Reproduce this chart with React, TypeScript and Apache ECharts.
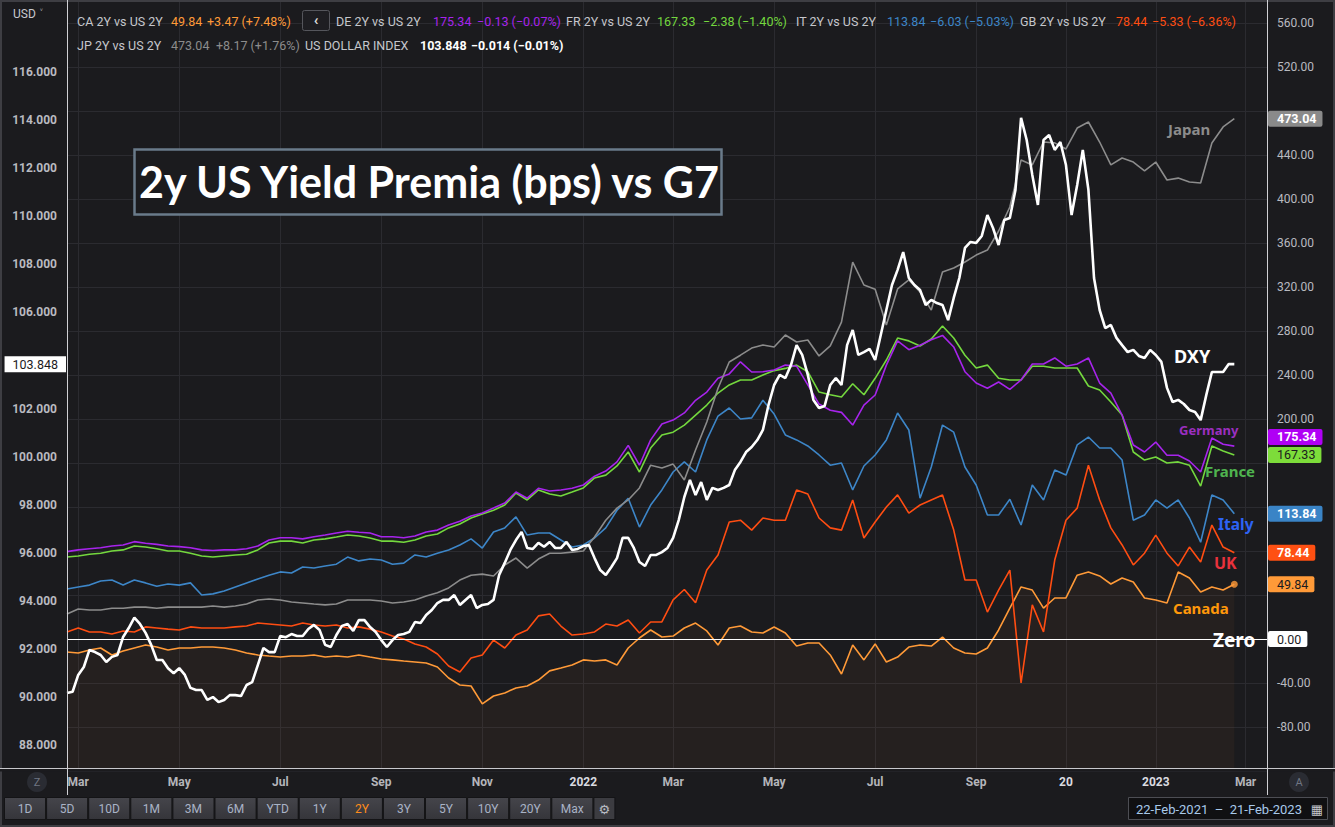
import React, { useEffect, useRef } from 'react';
import * as echarts from 'echarts';

// ---------- categories ----------
const START_DATE = '2021-02-22';
const N_WEEKS = 108;
function weekDates(start: string, n: number): string[] {
  const out: string[] = [];
  const t0 = Date.parse(start + 'T00:00:00Z');
  for (let i = 0; i < n; i++) out.push(new Date(t0 + i * 7 * 86400000).toISOString().slice(0, 10));
  return out;
}
// half-week (Mon / Thu) dates for the denser DXY series
function halfWeekDates(start: string, nWeeks: number): string[] {
  const out: string[] = [];
  const t0 = Date.parse(start + 'T00:00:00Z');
  for (let i = 0; i < nWeeks * 2 - 1; i++) {
    const days = Math.floor(i / 2) * 7 + (i % 2) * 3;
    out.push(new Date(t0 + days * 86400000).toISOString().slice(0, 10));
  }
  return out;
}
const categories = weekDates(START_DATE, N_WEEKS);
const dxyCategories = halfWeekDates(START_DATE, N_WEEKS);

const xTickLabels: Record<string, string> = {
  '2021-03-01': 'Mar', '2021-05-03': 'May', '2021-07-05': 'Jul', '2021-09-06': 'Sep', '2021-11-08': 'Nov',
  '2022-01-10': '2022', '2022-03-07': 'Mar', '2022-05-09': 'May', '2022-07-11': 'Jul', '2022-09-12': 'Sep',
  '2022-11-07': '20', '2023-01-02': '2023', '2023-02-27': 'Mar',
};

// ---------- series values ----------
// US Dollar Index (left axis), twice-weekly readings
const dxy = [
  90.17, 90.22, 90.92, 91.25, 91.96, 91.87, 91.75, 91.46, 91.67, 91.75,
  92.5, 92.87, 93.3, 93.04, 92.67, 92.17, 91.54, 91.54, 91.2, 90.99,
  91.2, 90.92, 90.38, 90.29, 90.29, 89.88, 90.0, 89.79, 89.88, 90.08,
  90.08, 90.04, 90.5, 90.62, 91.33, 92.04, 91.87, 91.87, 92.54, 92.49,
  92.62, 92.54, 92.54, 92.83, 93.0, 92.79, 92.17, 92.08, 92.58, 92.96,
  93.04, 92.75, 93.2, 93.2, 92.91, 92.71, 92.37, 92.08, 92.37, 92.58,
  92.62, 92.71, 93.12, 93.08, 93.41, 93.62, 93.91, 94.04, 94.04, 94.24,
  93.83, 94.04, 94.24, 93.7, 93.83, 93.87, 94.04, 95.08, 95.58, 96.12,
  96.53, 96.87, 96.2, 96.16, 96.41, 96.25, 96.45, 96.2, 96.2, 96.45,
  96.12, 96.16, 96.28, 96.32, 95.78, 95.28, 95.08, 95.41, 95.78, 96.62,
  96.62, 96.2, 95.62, 95.45, 95.91, 95.91, 96.03, 96.2, 96.62, 97.36,
  98.32, 99.03, 98.4, 98.94, 98.2, 98.7, 98.61, 98.7, 98.82, 99.44,
  99.78, 100.19, 100.4, 100.69, 101.11, 102.15, 102.98, 103.4, 103.27, 103.81,
  104.64, 104.23, 103.4, 102.36, 102.02, 102.11, 102.98, 103.27, 102.98, 104.64,
  105.27, 104.23, 104.35, 104.48, 104.02, 105.06, 106.1, 107.14, 107.77, 108.51,
  107.43, 107.14, 106.93, 106.31, 106.52, 106.39, 106.31, 105.68, 106.6, 107.43,
  108.68, 108.93, 108.89, 109.18, 110.05, 109.51, 108.8, 109.84, 109.93, 111.09,
  114.09, 113.17, 111.72, 110.47, 113.17, 113.38, 112.76, 113.09, 112.13, 110.05,
  111.3, 112.76, 111.1, 107.43, 106.1, 105.35, 105.48, 104.94, 104.64, 104.35,
  104.44, 104.19, 104.1, 104.44, 104.23, 103.94, 102.86, 102.27, 102.36, 102.19,
  101.94, 101.86, 101.52, 102.56, 103.52, 103.52, 103.52, 103.85, 103.848,
];
// 2y spreads vs US, bps (right axis), weekly readings
const japan = [
  22.7, 27.3, 26.4, 26.4, 28, 28, 29, 29, 28, 29,
  29, 29, 29, 30, 29, 30, 31.8, 35.5, 36.4, 35.5,
  33.6, 32.7, 31.8, 31, 31.8, 35.5, 35.5, 35.5, 34.5, 32.7,
  33.6, 35.5, 39, 42, 46.4, 53.6, 58, 59, 57.3, 67.3,
  73.6, 64.5, 72.7, 78, 78, 79, 80, 92.7, 108, 119,
  126.4, 137.3, 158, 155.5, 159, 144.5, 171.8, 197.3, 228, 251.8,
  258, 264.5, 267.3, 265.5, 276.4, 270, 271.8, 257.3, 266.4, 288,
  342.7, 321.8, 318, 285.5, 318.2, 326.4, 315.5, 299, 333.6, 337.3,
  342.7, 349, 353.6, 370.9, 392.7, 435.5, 431, 451.8, 451, 445.5,
  464.5, 470, 451.8, 431, 437.3, 433.6, 425.5, 433.6, 417.3, 419,
  415.5, 414.5, 450.9, 465.5, 473.04,
];
const germany = [
  79.4, 81, 82, 83, 84.5, 85.5, 88.5, 87, 86, 84.5,
  84, 83, 81, 80.5, 81, 81, 82, 84.5, 90, 92,
  92, 91, 93, 94.5, 96.4, 98, 97, 96.4, 93, 93,
  92, 93.6, 97.3, 99, 103.6, 107, 111.8, 114.5, 119, 123.6,
  133.6, 128, 137, 134.5, 135.5, 137, 140, 148, 152.7, 161,
  176, 158, 181, 195.5, 199, 205.5, 217, 224.5, 237, 241,
  252, 242.7, 243, 244.5, 249, 248, 231, 213.6, 208, 206,
  194.5, 212.7, 221.8, 249, 271, 263, 267, 272, 276, 265.5,
  243, 232.7, 228, 233.6, 227, 235.5, 250, 250, 255.5, 248,
  250, 255.5, 232.7, 223.6, 203.6, 176.4, 170, 179, 167, 167,
  161.8, 151.8, 182.7, 177, 175.34,
];
const france = [
  74.5, 75.5, 77, 78, 80, 81, 84.5, 83.6, 82, 80,
  80, 78, 75.5, 74.5, 75.5, 76.4, 77, 81, 87.3, 89,
  89, 87.3, 90, 91, 92.7, 94.5, 93.6, 91.8, 89, 89,
  88, 90, 93.6, 95.5, 101, 104.5, 110, 113.6, 117, 121.8,
  132.7, 126.4, 135.5, 131.8, 130, 133.6, 137.3, 146.4, 149, 157.3,
  170, 151.8, 173.6, 185.5, 188, 194.5, 203.6, 212.7, 223.6, 231,
  235.5, 235.5, 240, 244, 246, 249, 243, 224.5, 222, 220,
  232, 222, 237, 253.6, 273.6, 271, 266.4, 272.7, 284.5, 273.6,
  258, 246.4, 249, 237, 235.5, 235.5, 248, 248, 246.4, 246.4,
  246.4, 230, 226.4, 215.5, 203.6, 170, 162.7, 165.5, 160, 161,
  158, 139, 175.5, 171, 167.33,
];
const italy = [
  45.5, 47.3, 49, 52.7, 53.6, 49, 53.6, 51, 48, 50,
  49, 51, 40, 41, 43.6, 47.3, 51, 54.5, 58, 61,
  60, 65.5, 64.5, 66.4, 68, 74.5, 71, 72.7, 71.8, 68,
  69, 76.4, 74.5, 78, 81, 85.5, 91, 82.7, 97.3, 101,
  111, 94.5, 96.4, 96.4, 90, 83.6, 85.5, 91.8, 101, 117,
  128, 101.8, 121.8, 135.5, 151.8, 161, 151.8, 181, 202.7, 210,
  200, 201, 217, 204.5, 185.5, 181, 175.5, 167.3, 158, 160,
  135.5, 157.3, 167.3, 181, 205.5, 190, 128, 156.4, 194.5, 188,
  156.4, 140, 112.7, 112.7, 127, 103.6, 140, 126.4, 153.6, 149,
  176.4, 183.6, 173.6, 173.6, 162.7, 108, 112.7, 126.4, 119, 126.4,
  110, 88, 131, 126.4, 113.84,
];
const uk = [
  6.4, 10, 6.4, 6.4, 4.5, 7.3, 6.4, 11, 10, 9,
  8.2, 11, 10, 10, 10, 11, 11.8, 14.5, 13.6, 12.7,
  11.8, 14.5, 12.7, 11.8, 12.7, 10, 11, 9, 6.4, 2.7,
  0, -4.5, -7.3, -13.6, -24.5, -30, -17.3, -14.5, -1, -8.2,
  3.6, 8.2, 21, 22.7, 11.8, 3.6, 4.5, 6.4, 13.6, 11.8,
  17.3, 5.5, 15.5, 15.5, 35.5, 45, 33, 62.7, 76.4, 106.4,
  108, 99, 110, 108, 108, 135.5, 131.8, 110, 101, 99,
  126.4, 91.8, 106.4, 120, 131, 114.5, 121.8, 126.4, 131, 99,
  53.6, 53.6, 24.5, 44.5, 62.7, -40, 31, 6.4, 71.8, 108,
  119, 158, 126.4, 101, 85.5, 67.3, 78, 94.5, 78, 66.4,
  83.6, 70, 103.6, 83.6, 78.44,
];
const canada = [
  -11.8, -12.7, -10, -8.2, -14.5, -11, -8.2, -5.5, -7.3, -10,
  -8.2, -8.2, -7.3, -7.3, -8.2, -10, -12.7, -14.5, -15.5, -16.4,
  -15.5, -15.5, -14.5, -16.4, -15.5, -16.4, -14.5, -16.4, -18.2, -19,
  -20, -20.9, -21.8, -25.5, -35.5, -41.8, -42.7, -59, -51.8, -49,
  -44.5, -42.7, -37.3, -29, -26.4, -23.6, -19, -20, -19, -23.6,
  -8.2, 0.9, 8.2, 1.8, 2.7, 10, 14.5, 7.3, -5.5, 10,
  11.8, 6.4, 5.5, 10.9, 5.5, -6.4, -3.6, -3.6, -14.5, -31.8,
  -5.5, -19, -4.5, -20.9, -16.4, -7.3, -5.5, -6.4, 1.8, -8.2,
  -12.7, -13.6, -8.2, 8.2, 28, 47.3, 44.5, 28, 37.3, 37.3,
  58, 60.9, 57.3, 50, 55.5, 51.8, 37.3, 35.5, 32.7, 60.9,
  55.5, 42.7, 47.3, 44.5, 49.84,
];

// ---------- header / toolbar texts ----------
const legendRow1 = [
  { name: 'CA 2Y vs US 2Y', last: '49.84', chg: '+3.47 (+7.48%)', key: 'CA' },
  { name: 'DE 2Y vs US 2Y', last: '175.34', chg: '\u22120.13 (\u22120.07%)', key: 'DE' },
  { name: 'FR 2Y vs US 2Y', last: '167.33', chg: '\u22122.38 (\u22121.40%)', key: 'FR' },
  { name: 'IT 2Y vs US 2Y', last: '113.84', chg: '\u22126.03 (\u22125.03%)', key: 'IT' },
  { name: 'GB 2Y vs US 2Y', last: '78.44', chg: '\u22125.33 (\u22126.36%)', key: 'GB' },
];
const legendRow2 = [
  { name: 'JP 2Y vs US 2Y', last: '473.04', chg: '+8.17 (+1.76%)', key: 'JP' },
  { name: 'US DOLLAR INDEX', last: '103.848', chg: '\u22120.014 (\u22120.01%)', key: 'DXY' },
];
const rangeButtons = ['1D', '5D', '10D', '1M', '3M', '6M', 'YTD', '1Y', '2Y', '3Y', '5Y', '10Y', '20Y', 'Max'];
const activeRange = '2Y';
const dateRangeText = '22-Feb-2021  \u2013  21-Feb-2023';
const titleText = '2y US Yield Premia (bps) vs G7';

// ---------- styles ----------
const BG = '#1b1b1e';
const GRID = '#2b2b30';
const AXIS_TXT = '#b9bac0';
const LEG_TXT = '#c6c7cc';
const C = {
  DXY: '#ffffff',
  JP: '#8c8c8c',
  DE: '#a724ec',
  FR: '#74d83e',
  IT: '#3d86c8',
  GB: '#ff4d12',
  CA: '#ff9a38',
};
const UI = 'Roboto, "Noto Sans", sans-serif';
const LBL = '"Noto Sans", "DejaVu Sans", sans-serif';

const last = (a: number[]) => a[a.length - 1];
const rightPriceValues = [last(japan), last(germany), last(france), last(italy), last(uk), last(canada), 0];

function text(x: number, y: number, t: string, fill: string, font: string, align = 'left', extra: any = {}) {
  return {
    type: 'text', x, y, z: 100, silent: true,
    style: { text: t, fill, font, textAlign: align, textVerticalAlign: 'middle', ...extra },
  };
}

export default function App() {
  const ref = useRef<HTMLDivElement>(null);
  useEffect(() => {
    if (!ref.current) return;
    const chart = echarts.init(ref.current, undefined, { renderer: 'svg' });
    const isTick = (_i: number, v: string) => !!xTickLabels[v];
    const line = (name: string, data: number[], color: string, width: number, z: number, extra: any = {}) => ({
      type: 'line', name, data, xAxisIndex: 0, yAxisIndex: 0, symbol: 'none', showSymbol: false,
      lineStyle: { color, width }, itemStyle: { color }, z, silent: true, ...extra,
    });
    const option: any = {
      animation: false,
      backgroundColor: BG,
      grid: [
        { left: 67, right: 67, top: 1, bottom: 56 },
        { left: 67, right: 67, top: 23.92, height: 769.28 },
      ],
      xAxis: [
        {
          type: 'category', gridIndex: 0, data: categories, boundaryGap: false,
          axisLine: { show: false }, axisTick: { show: false },
          axisLabel: {
            interval: isTick, margin: 5, color: '#b4b5ba', fontSize: 12, fontWeight: 'bold', fontFamily: UI,
            formatter: (v: string) => {
              const t = xTickLabels[v];
              if (!t) return '';
              return /^\d+$/.test(t) ? `{y|${t}}` : t;
            },
            rich: { y: { color: '#dadbe0', fontSize: 12, fontWeight: 'bold', fontFamily: UI } },
          },
          splitLine: { show: true, interval: isTick, lineStyle: { color: GRID, width: 1 } },
        },
        { type: 'category', gridIndex: 1, data: dxyCategories, boundaryGap: false, show: false },
      ],
      yAxis: [
        {
          type: 'value', gridIndex: 0, position: 'right', min: -120, max: 580, interval: 40,
          axisLine: { show: false }, axisTick: { show: false },
          splitLine: { show: true, lineStyle: { color: GRID, width: 1 } },
          axisLabel: {
            margin: 9, color: AXIS_TXT, fontSize: 12, fontFamily: UI,
            formatter: (v: number) =>
              v > 560 || v < -80 || rightPriceValues.some((p) => Math.abs(p - v) < 12.5) ? '' : v.toFixed(2),
          },
        },
        {
          type: 'value', gridIndex: 1, position: 'left', min: 86, max: 118, interval: 2,
          axisLine: { show: false }, axisTick: { show: false }, splitLine: { show: false },
          axisLabel: {
            margin: 10, color: AXIS_TXT, fontSize: 12, fontFamily: UI, fontWeight: 'bold',
            formatter: (v: number) => (v <= 86 || v >= 118 || Math.abs(v - last(dxy)) < 0.6 ? '' : v.toFixed(3)),
          },
        },
      ],
      series: [
        line('Canada', canada, C.CA, 1.6, 2, {
          areaStyle: { color: 'rgba(255,150,60,0.065)', origin: 'start' },
          markLine: {
            silent: true, symbol: 'none', label: { show: false },
            lineStyle: { color: '#ffffff', width: 1, type: 'solid' },
            data: [{ yAxis: 0 }],
          },
        }),
        line('UK', uk, C.GB, 1.6, 3),
        line('Italy', italy, C.IT, 1.6, 4),
        line('France', france, C.FR, 1.6, 5),
        line('Germany', germany, C.DE, 1.6, 6),
        line('Japan', japan, C.JP, 1.6, 7),
        {
          type: 'line', name: 'DXY', data: dxy, xAxisIndex: 1, yAxisIndex: 1, symbol: 'none', showSymbol: false,
          lineStyle: { color: C.DXY, width: 2.6 }, itemStyle: { color: C.DXY }, z: 10, silent: true,
        },
        {
          type: 'scatter', name: 'CA last', xAxisIndex: 0, yAxisIndex: 0, silent: true, z: 11,
          data: [[canada.length - 1, last(canada)]], symbolSize: 7, itemStyle: { color: C.CA },
        },
      ],
    };
    chart.setOption(option);

    const yR = (v: number) => chart.convertToPixel({ yAxisIndex: 0 }, v) as number;
    const yL = (v: number) => chart.convertToPixel({ yAxisIndex: 1 }, v) as number;

    const g: any[] = [];
    // frame / axis lines
    g.push({ type: 'rect', z: 90, silent: true, shape: { x: 1, y: 1, width: 1333, height: 825 }, style: { fill: 'none', stroke: '#3e3e43', lineWidth: 2 } });
    g.push({ type: 'line', z: 95, silent: true, shape: { x1: 67.5, y1: 0, x2: 67.5, y2: 795 }, style: { stroke: '#d0d0d4', lineWidth: 1 } });
    g.push({ type: 'line', z: 95, silent: true, shape: { x1: 1267.5, y1: 0, x2: 1267.5, y2: 795 }, style: { stroke: '#d0d0d4', lineWidth: 1 } });
    g.push({ type: 'rect', z: 94, silent: true, shape: { x: 0, y: 769, width: 1335, height: 2.5 }, style: { fill: BG } });
    g.push({ type: 'line', z: 95, silent: true, shape: { x1: 0, y1: 768.5, x2: 1335, y2: 768.5 }, style: { stroke: '#c8c8cc', lineWidth: 1 } });

    // USD selector
    g.push(text(13, 14, 'USD', '#c8c9ce', `12px ${UI}`));
    g.push(text(40, 13, '\u02c5', '#c8c9ce', `10px ${UI}`));

    // header legend
    const row1X = [[77, 171, 207], [336, 433, 477], [566, 657, 703], [796, 887, 930], [1020, 1116, 1152]];
    legendRow1.forEach((it, i) => {
      const col = (C as any)[it.key];
      g.push(text(row1X[i][0], 21, it.name, LEG_TXT, `12.5px ${UI}`));
      g.push(text(row1X[i][1], 21, it.last, col, `12.5px ${UI}`));
      g.push(text(row1X[i][2], 21, it.chg, col, `12.5px ${UI}`));
    });
    g.push({ type: 'rect', z: 100, silent: true, shape: { x: 302.5, y: 10.5, width: 27, height: 20, r: 2 }, style: { fill: '#1e1e22', stroke: '#55565c', lineWidth: 1 } });
    g.push(text(316, 20, '\u2039', '#e0e0e0', `bold 15px ${UI}`, 'center'));
    const row2X = [[77, 171, 216], [305, 420, 471]];
    legendRow2.forEach((it, i) => {
      const isDxy = it.key === 'DXY';
      const col = isDxy ? '#ffffff' : (C as any)[it.key];
      const w = isDxy ? 'bold ' : '';
      g.push(text(row2X[i][0], 45, it.name, LEG_TXT, `12.5px ${UI}`));
      g.push(text(row2X[i][1], 45, it.last, col, `${w}12.5px ${UI}`));
      g.push(text(row2X[i][2], 45, it.chg, col, `${w}12.5px ${UI}`));
    });

    // title box
    g.push({ type: 'rect', z: 98, silent: true, shape: { x: 134.5, y: 149.5, width: 587, height: 65 }, style: { fill: BG, stroke: '#6a7b8a', lineWidth: 2.5 } });
    g.push(text(429, 181, titleText, '#ffffff', `bold 43px Lato, ${LBL}`, 'center'));

    // series name annotations
    g.push(text(1168, 129, 'Japan', C.JP, `bold 15px ${LBL}`));
    g.push(text(1174, 356, 'DXY', '#ffffff', `bold 18px ${LBL}`));
    g.push(text(1179, 430, 'Germany', '#9b2fc0', `bold 13px ${LBL}`));
    g.push(text(1205, 471, 'France', '#4fb34f', `bold 15px ${LBL}`));
    g.push(text(1218, 524, 'Italy', '#2d63f5', `bold 15.5px ${LBL}`));
    g.push(text(1214, 563, 'UK', '#e8323c', `bold 16px ${LBL}`));
    g.push(text(1173, 608, 'Canada', '#ff980a', `bold 15px ${LBL}`));
    g.push(text(1213, 640, 'Zero', '#ffffff', `bold 19px ${LBL}`));

    // right price labels
    const priceLabels = [
      { v: last(japan), bg: '#8a8a8a', fg: '#ffffff' },
      { v: last(germany), bg: '#b000f5', fg: '#ffffff' },
      { v: last(france), bg: '#7ddc3a', fg: '#1b1b1e' },
      { v: last(italy), bg: '#3a84c6', fg: '#ffffff' },
      { v: last(uk), bg: '#ff5012', fg: '#ffffff' },
      { v: last(canada), bg: '#ff9a38', fg: '#1b1b1e' },
      { v: 0, bg: '#ffffff', fg: '#1b1b1e' },
    ].map((p) => ({ ...p, y: yR(p.v) }));
    priceLabels.sort((a, b) => a.y - b.y);
    for (let i = priceLabels.length - 2; i >= 0; i--) {
      if (priceLabels[i].y > priceLabels[i + 1].y - 18) priceLabels[i].y = priceLabels[i + 1].y - 18;
    }
    priceLabels.forEach((p) => {
      g.push(text(1268, p.y, p.v.toFixed(2), p.fg, `${p.fg === '#ffffff' ? 'bold ' : ''}12.5px ${UI}`, 'left', {
        backgroundColor: p.bg, padding: [2, 6, 1, 9], borderRadius: 2, lineHeight: 13,
      }));
    });
    // left DXY price label
    const dl = last(dxy);
    g.push(text(66, yL(dl), dl.toFixed(3), '#1b1b1e', `12.5px ${UI}`, 'right', {
      backgroundColor: '#ffffff', padding: [2, 8, 1, 8], lineHeight: 13,
    }));

    // Z / A buttons
    g.push({ type: 'circle', z: 100, silent: true, shape: { cx: 37, cy: 782, r: 10 }, style: { fill: '#2a2c33' } });
    g.push(text(37, 782, 'Z', '#707683', `11px ${UI}`, 'center'));
    g.push({ type: 'circle', z: 100, silent: true, shape: { cx: 1299, cy: 782, r: 10 }, style: { fill: '#2a2c33' } });
    g.push(text(1299, 782, 'A', '#707683', `11px ${UI}`, 'center'));

    // range toolbar
    const bw = 42.1;
    rangeButtons.forEach((b, i) => {
      const x = 4 + i * bw;
      g.push({ type: 'rect', z: 100, silent: true, shape: { x: x + 0.5, y: 797.5, width: bw - 1, height: 22 },
        style: { fill: new (echarts as any).graphic.LinearGradient(0, 0, 0, 1, [{ offset: 0, color: '#45454b' }, { offset: 1, color: '#35353a' }]), stroke: '#141416', lineWidth: 1 } });
      g.push(text(x + bw / 2, 809, b, b === activeRange ? '#ff8c1a' : '#a9b3c6', `12px ${UI}`, 'center'));
    });
    const gx = 4 + rangeButtons.length * bw;
    g.push({ type: 'rect', z: 100, silent: true, shape: { x: gx + 0.5, y: 797.5, width: 21, height: 22 },
      style: { fill: '#3c3c41', stroke: '#141416', lineWidth: 1 } });
    g.push(text(gx + 11, 809, '\u2699', '#b9bcc4', `13px "DejaVu Sans", ${UI}`, 'center'));

    // date range box
    g.push({ type: 'rect', z: 100, silent: true, shape: { x: 1128.5, y: 797.5, width: 199, height: 22 }, style: { fill: '#101012', stroke: '#4d4e54', lineWidth: 1 } });
    g.push(text(1136, 809, dateRangeText, '#a8c9ea', `13px ${UI}`));
    g.push(text(1317, 809, '\u25a6', '#c4c6cc', `13px "DejaVu Sans", ${UI}`, 'center'));

    chart.setOption({ graphic: g });
    return () => chart.dispose();
  }, []);
  return <div ref={ref} style={{ position: 'fixed', left: 0, top: 0, width: 1335, height: 827 }} />;
}
